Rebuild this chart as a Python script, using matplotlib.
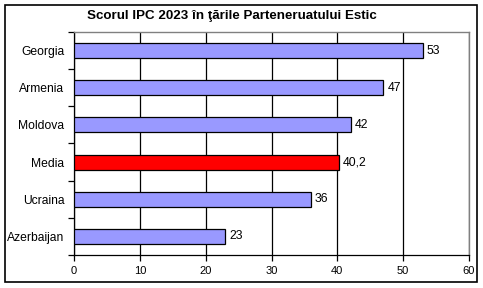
import numpy as np
import matplotlib.pyplot as plt
from matplotlib.patches import Rectangle

plt.rcParams['font.family'] = ['Liberation Sans', 'DejaVu Sans']

countries = ['Georgia', 'Armenia', 'Moldova', 'Media', 'Ucraina', 'Azerbaijan']
scores = [53, 47, 42, 40.2, 36, 23]
labels = ['53', '47', '42', '40,2', '36', '23']
colors = ['#9999FF' if c != 'Media' else '#FF0000' for c in countries]

fig = plt.figure(figsize=(4.83, 2.88), dpi=100)
ax = fig.add_axes([74 / 483, 1 - 255 / 288, (469 - 74) / 483, (255 - 32) / 288])

idx = np.arange(len(countries))
ax.barh(idx, scores, height=0.4, color=colors, edgecolor='black', linewidth=0.9, zorder=3)
for i, (v, t) in enumerate(zip(scores, labels)):
    ax.text(v + 0.6, i, t, va='center', ha='left', fontsize=8.8, zorder=4)

ax.set_ylim(len(countries) - 0.5, -0.5)
ax.set_xlim(0, 60)
ax.set_xticks(np.arange(0, 61, 10))
ax.set_yticks(idx)
ax.set_yticklabels(countries, fontsize=8.7)
ax.set_yticks(np.arange(-0.5, len(countries), 1), minor=True)
ax.tick_params(axis='y', which='major', length=0, pad=7)
ax.tick_params(axis='y', which='minor', length=4, width=0.9, color='black')
ax.tick_params(axis='x', length=4, width=0.9, labelsize=8, pad=4)
ax.grid(axis='x', color='black', linewidth=0.9, zorder=0)

for s in ['top', 'right']:
    ax.spines[s].set_color('#808080')
    ax.spines[s].set_linewidth(1)
for s in ['left', 'bottom']:
    ax.spines[s].set_color('black')
    ax.spines[s].set_linewidth(0.9)

fig.text(231.5 / 483, 1 - 16 / 288, 'Scorul IPC 2023 în ţările Parteneruatului Estic',
         fontsize=9.6, fontweight='bold', ha='center', va='center')

fig.patches.append(Rectangle((5 / 483, 1 - 282 / 288), 472 / 483, 277 / 288,
                             transform=fig.transFigure, fill=False,
                             edgecolor='black', linewidth=1.2))

fig.savefig('out.png', dpi=100)
